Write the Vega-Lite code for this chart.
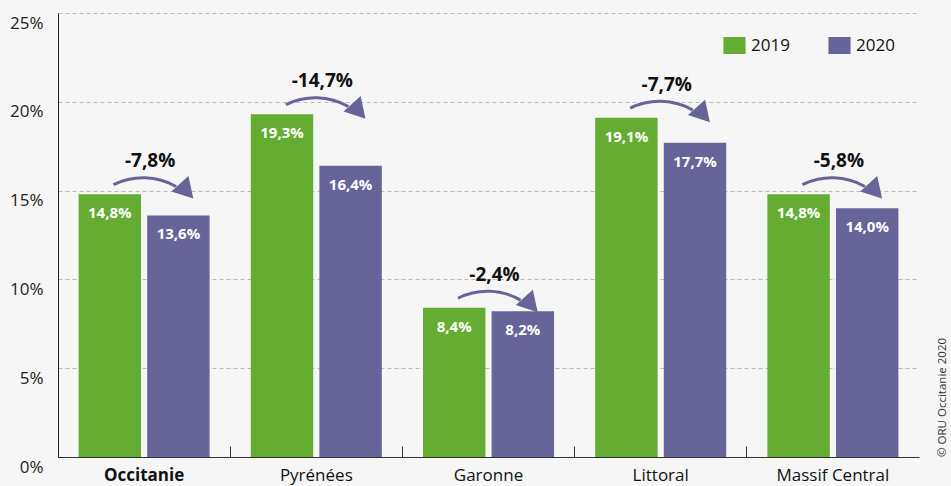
{
  "$schema": "https://vega.github.io/schema/vega-lite/v6.json",
  "width": 861,
  "height": 444,
  "autosize": {"type": "none"},
  "padding": {"left": 58, "top": 13, "right": 32, "bottom": 29},
  "background": "#f6f6f6",
  "config": {
    "locale": {"number": {"decimal": ",", "thousands": " ", "grouping": [3], "currency": ["", " €"], "minus": "-"}},
    "view": {"stroke": null},
    "font": "Open Sans"
  },
  "title": {
    "text": "© ORU Occitanie 2020",
    "orient": "right",
    "anchor": "end",
    "frame": "group",
    "angle": 270,
    "align": "left",
    "baseline": "middle",
    "fontSize": 11.5,
    "fontWeight": "normal",
    "color": "#333333",
    "font": "Open Sans",
    "offset": 12
  },
  "datasets": {
    "bars": [
      {"region": "Occitanie", "year": "2019", "value": 0.148},
      {"region": "Occitanie", "year": "2020", "value": 0.136},
      {"region": "Pyrénées", "year": "2019", "value": 0.193},
      {"region": "Pyrénées", "year": "2020", "value": 0.164},
      {"region": "Garonne", "year": "2019", "value": 0.084},
      {"region": "Garonne", "year": "2020", "value": 0.082},
      {"region": "Littoral", "year": "2019", "value": 0.191},
      {"region": "Littoral", "year": "2020", "value": 0.177},
      {"region": "Massif Central", "year": "2019", "value": 0.148},
      {"region": "Massif Central", "year": "2020", "value": 0.140}
    ],
    "changes": [
      {"region": "Occitanie", "base": 0.148, "change": -0.078},
      {"region": "Pyrénées", "base": 0.193, "change": -0.147},
      {"region": "Garonne", "base": 0.084, "change": -0.024},
      {"region": "Littoral", "base": 0.191, "change": -0.077},
      {"region": "Massif Central", "base": 0.148, "change": -0.058}
    ]
  },
  "layer": [
    {
      "data": {"name": "bars"},
      "mark": {"type": "bar"},
      "encoding": {
        "x": {
          "field": "region", "type": "nominal",
          "sort": ["Occitanie", "Pyrénées", "Garonne", "Littoral", "Massif Central"],
          "scale": {"paddingInner": 0, "paddingOuter": 0},
          "axis": {
            "title": null, "labelAngle": 0, "bandPosition": 0,
            "tickSize": -11, "tickColor": "#333333", "domainColor": "#333333",
            "labelFontSize": 17, "labelColor": "#111111", "labelPadding": 21,
            "labelBaseline": "top",
            "labelFontWeight": {"condition": {"test": "datum.value === 'Occitanie'", "value": "bold"}, "value": "normal"}
          }
        },
        "xOffset": {"field": "year", "type": "nominal", "scale": {"paddingInner": 0.09, "paddingOuter": 0.3}},
        "y": {
          "field": "value", "type": "quantitative",
          "scale": {"domain": [0, 0.25], "nice": false},
          "axis": {
            "title": null, "values": [0, 0.05, 0.1, 0.15, 0.2, 0.25], "format": ".0%",
            "ticks": false, "domainColor": "#222222",
            "grid": true, "gridDash": [4, 3], "gridColor": "#bbbbbb",
            "labelFontSize": 17, "labelColor": "#222222", "labelPadding": 15, "labelOffset": 10
          }
        },
        "color": {
          "field": "year", "type": "nominal",
          "scale": {"domain": ["2019", "2020"], "range": ["#65ad32", "#666498"]},
          "legend": {
            "title": null, "orient": "top-right", "direction": "horizontal", "offset": 24,
            "symbolType": "M-1.3,-1H1.3V1H-1.3Z", "symbolSize": 289, "symbolStrokeWidth": 0,
            "symbolOpacity": 1, "labelFontSize": 17, "labelColor": "#111111",
            "labelOffset": 8, "columnPadding": 38, "padding": 0
          }
        }
      }
    },
    {
      "data": {"name": "bars"},
      "mark": {"type": "text", "color": "white", "fontWeight": "bold", "fontSize": 15, "baseline": "middle", "dy": 19},
      "encoding": {
        "x": {"field": "region", "type": "nominal", "sort": ["Occitanie", "Pyrénées", "Garonne", "Littoral", "Massif Central"]},
        "xOffset": {"field": "year", "type": "nominal"},
        "y": {"field": "value", "type": "quantitative"},
        "text": {"field": "value", "type": "quantitative", "format": ".1%"}
      }
    },
    {
      "data": {"name": "changes"},
      "mark": {"type": "arc", "theta": -0.46, "theta2": 0.52, "radius": 68, "radius2": 65, "color": "#666498", "xOffset": -1, "yOffset": 50},
      "encoding": {
        "x": {"field": "region", "type": "nominal", "sort": ["Occitanie", "Pyrénées", "Garonne", "Littoral", "Massif Central"]},
        "y": {"field": "base", "type": "quantitative"}
      }
    },
    {
      "data": {"name": "changes"},
      "mark": {"type": "point", "shape": "M-1,-1.15L1,0L-1,1.15Z", "size": 400, "angle": 48, "filled": true, "color": "#666498", "opacity": 1, "strokeWidth": 0, "xOffset": 42.5, "yOffset": -3},
      "encoding": {
        "x": {"field": "region", "type": "nominal", "sort": ["Occitanie", "Pyrénées", "Garonne", "Littoral", "Massif Central"]},
        "y": {"field": "base", "type": "quantitative"}
      }
    },
    {
      "data": {"name": "changes"},
      "mark": {"type": "text", "fontSize": 19, "fontWeight": "bold", "color": "#111111", "baseline": "middle", "dx": 6, "dy": -33},
      "encoding": {
        "x": {"field": "region", "type": "nominal", "sort": ["Occitanie", "Pyrénées", "Garonne", "Littoral", "Massif Central"]},
        "y": {"field": "base", "type": "quantitative"},
        "text": {"field": "change", "type": "quantitative", "format": ".1%"}
      }
    }
  ]
}
